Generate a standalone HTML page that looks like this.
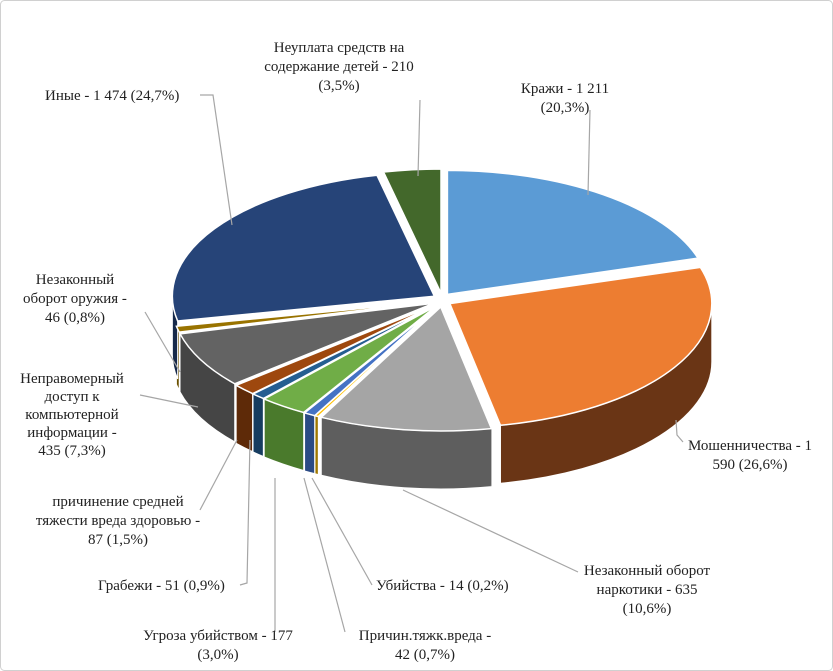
<!DOCTYPE html>
<html><head><meta charset="utf-8"><style>
html,body{margin:0;padding:0;background:#fff}
svg{display:block;font-family:"Liberation Serif",serif}
text{font-size:15px;fill:#222}
</style></head><body>
<svg id="chart" width="833" height="671" viewBox="0 0 833 671">
<rect x="0.5" y="0.5" width="832" height="670" rx="4" fill="#fff" stroke="#d0d0d0"/>
<g id="walls"></g><g id="tops"></g>
<g id="leaders" stroke="#a6a6a6" fill="none" stroke-width="1.2">
<polyline points="590,110 588,195"/>
<polyline points="420,100 418,176"/>
<polyline points="200,95 213,95 232,225"/>
<polyline points="145,312 180,372"/>
<polyline points="140,395 198,407"/>
<polyline points="200,510 237,440"/>
<polyline points="240,585 247,583 250,440"/>
<polyline points="275,632 275,478"/>
<polyline points="345,632 304,478"/>
<polyline points="372,585 312,478"/>
<polyline points="578,572 403,490"/>
<polyline points="683,442 677,435 676,420"/>
</g>
<g id="labels">
<text x="339" y="52" text-anchor="middle"><tspan x="339">Неуплата средств на</tspan><tspan x="339" dy="19">содержание детей - 210</tspan><tspan x="339" dy="19">(3,5%)</tspan></text>
<text x="565" y="93" text-anchor="middle"><tspan x="565">Кражи - 1 211</tspan><tspan x="565" dy="19">(20,3%)</tspan></text>
<text x="45" y="100">Иные - 1 474 (24,7%)</text>
<text x="75" y="284" text-anchor="middle"><tspan x="75">Незаконный</tspan><tspan x="75" dy="19">оборот оружия -</tspan><tspan x="75" dy="19">46 (0,8%)</tspan></text>
<text x="72" y="383" text-anchor="middle"><tspan x="72">Неправомерный</tspan><tspan x="72" dy="18">доступ к</tspan><tspan x="72" dy="18">компьютерной</tspan><tspan x="72" dy="18">информации -</tspan><tspan x="72" dy="18">435 (7,3%)</tspan></text>
<text x="118" y="506" text-anchor="middle"><tspan x="118">причинение средней</tspan><tspan x="118" dy="19">тяжести вреда здоровью -</tspan><tspan x="118" dy="19">87 (1,5%)</tspan></text>
<text x="98" y="590">Грабежи - 51 (0,9%)</text>
<text x="218" y="640" text-anchor="middle"><tspan x="218">Угроза убийством - 177</tspan><tspan x="218" dy="19">(3,0%)</tspan></text>
<text x="425" y="640" text-anchor="middle"><tspan x="425">Причин.тяжк.вреда -</tspan><tspan x="425" dy="19">42 (0,7%)</tspan></text>
<text x="376" y="590">Убийства - 14 (0,2%)</text>
<text x="647" y="575" text-anchor="middle"><tspan x="647">Незаконный оборот</tspan><tspan x="647" dy="19">наркотики - 635</tspan><tspan x="647" dy="19">(10,6%)</tspan></text>
<text x="750" y="450" text-anchor="middle"><tspan x="750">Мошенничества - 1</tspan><tspan x="750" dy="19">590 (26,6%)</tspan></text>
</g>
</svg>
<script>
const categories=["Кражи","Мошенничества","Незаконный оборот наркотики","Убийства","Причин.тяжк.вреда","Угроза убийством","Грабежи","причинение средней тяжести","Неправомерный доступ","Незаконный оборот оружия","Иные","Неуплата"];
const values=[1211,1590,635,14,42,177,51,87,435,46,1474,210];
const colors=["#5b9bd5","#ed7d31","#a5a5a5","#ffc000","#4472c4","#70ad47","#255e91","#9e480e","#636363","#997300","#264478","#43682b"];
const wallColors=["#3a6f9f","#6a3515","#5e5e5e","#a07800","#2b4b85","#4a7a2c","#173d60","#5e2a08","#454545","#6a5000","#16294a","#2a421a"];
const cx=442,cy=300,rx=262,ry=124,depth=58,ex=7;
const total=values.reduce((a,b)=>a+b,0);
const NS="http://www.w3.org/2000/svg";
function pt(t,ox,oy,dy){const r=t*Math.PI/180;return [cx+ox+rx*Math.sin(r),cy+oy-ry*Math.cos(r)+(dy||0)];}
const walls=document.getElementById('walls'),tops=document.getElementById('tops');
let a=0;
values.forEach((v,i)=>{
  const a0=a,a1=a+v/total*360;a=a1;
  const m=(a0+a1)/2*Math.PI/180;
  const ox=ex*Math.sin(m)*1.3,oy=-ex*Math.cos(m);
  const s=Math.max(a0,90),e=Math.min(a1,270);
  if(s<e){
    const p1=pt(s,ox,oy),p2=pt(e,ox,oy),p3=pt(e,ox,oy,depth),p4=pt(s,ox,oy,depth);
    const lg=(e-s)>180?1:0;
    const w=document.createElementNS(NS,'path');
    w.setAttribute('d',`M${p1}A${rx},${ry} 0 ${lg} 1 ${p2}L${p3}A${rx},${ry} 0 ${lg} 0 ${p4}Z`);
    w.setAttribute('fill',wallColors[i]);w.setAttribute('stroke','#fff');w.setAttribute('stroke-width','1');
    
    
    walls.appendChild(w);
    if(a0>90&&a0<180){const c=[cx+ox,cy+oy];const f=document.createElementNS(NS,'path');
      f.setAttribute('d',`M${c}L${p1}L${p4}L${c[0]},${c[1]+depth}Z`);f.setAttribute('fill',wallColors[i]);
      
      
      walls.appendChild(f);}
  }
  const p0=pt(a0,ox,oy),q1=pt(a1,ox,oy);
  const t=document.createElementNS(NS,'path');
  t.setAttribute('d',`M${cx+ox},${cy+oy}L${p0}A${rx},${ry} 0 ${(a1-a0)>180?1:0} 1 ${q1}Z`);
  t.setAttribute('fill',colors[i]);t.setAttribute('stroke','#fff');t.setAttribute('stroke-width','1.5');
  
  
  tops.appendChild(t);
});
</script>
</body></html>
